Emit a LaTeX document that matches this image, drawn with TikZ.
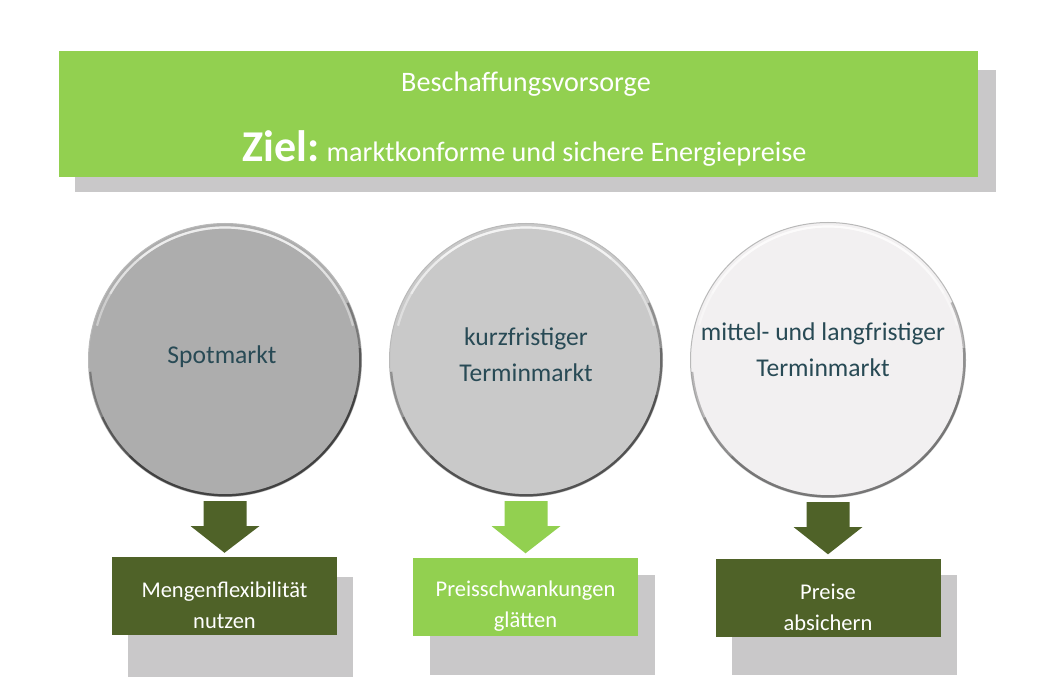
\documentclass[tikz,border=0pt]{standalone}
\usepackage{fontspec}
\setmainfont{Carlito}
\usetikzlibrary{calc}
\definecolor{bannergreen}{HTML}{92D050}
\definecolor{darkgreen}{HTML}{4F6228}
\definecolor{shadowgray}{HTML}{C9C8C9}
\definecolor{circA}{HTML}{ADADAD}
\definecolor{circB}{HTML}{C9C9C9}
\definecolor{circC}{HTML}{F2F0F1}
\definecolor{circtext}{HTML}{284A55}
\tikzset{
  bigcircle/.style={circle, minimum size=273pt, inner sep=0pt, draw=gray!55, line width=1pt},
  circlabel/.style={text=circtext, font=\fontsize{25.6}{36}\selectfont, align=center, inner sep=0pt},
  resultbox/.style={rectangle, minimum width=225pt, minimum height=78pt, inner sep=0pt},
  boxlabel/.style={text=white, font=\fontsize{22.5}{31}\selectfont, align=center, inner sep=0pt},
  shadowrect/.style={fill=shadowgray},
  bannertext/.style={text=white, inner sep=0pt, anchor=base},
}
% bevel: dark rim lower right, white highlight near the top (layered for a soft fade)
\newcommand{\bevel}[3]{%
  \foreach \a/\b in {15/135, -5/155, -25/175}{
    \draw[#2, line width=2.2pt, opacity=0.35] (#1) ++(\a:#3-1.2) arc (\a:\b:#3-1.2);
  }
  \foreach \a/\b in {230/310, 210/330, 195/345}{
    \draw[white, line width=2.2pt, opacity=0.4] (#1) ++(\a:#3-4) arc (\a:\b:#3-4);
  }
}
\newcommand{\blockarrow}[3]{%
  \fill[#3] ($(#1)+(-21.5,4)$) -- ($(#1)+(21.5,4)$) -- ($(#1)+(21.5,29)$) -- ($(#1)+(34.5,29)$)
    -- ($(#2)+(0,-4)$) -- ($(#1)+(-34.5,29)$) -- ($(#1)+(-21.5,29)$) -- cycle;
}
\begin{document}
\begin{tikzpicture}[x=1pt, y=-1pt]
\useasboundingbox (0,0) rectangle (1058,695);
\fill[white] (0,0) rectangle (1058,695);

% banner
\fill[shadowrect] (75,70) rectangle (996,192);
\node[rectangle, fill=bannergreen, minimum width=919pt, minimum height=126pt, inner sep=0pt] (banner) at (518.5,114) {};
\node[bannertext, font=\fontsize{28.2}{30}\selectfont] (title) at (526,92) {Beschaffungsvorsorge};
\node[bannertext] (goal) at (524.5,162) {{\fontsize{44}{48}\selectfont\bfseries Ziel:}\hspace{7pt}{\fontsize{28.2}{30}\selectfont marktkonforme und sichere Energiepreise}};

% circles
\node[bigcircle, fill=circA] (c1) at (225,360) {};
\bevel{c1}{gray!20!black}{136.5}
\node[bigcircle, fill=circB] (c2) at (526,360) {};
\bevel{c2}{gray!30!black}{136.5}
\node[bigcircle, fill=circC, minimum size=275pt] (c3) at (828,360) {};
\bevel{c3}{gray!60!black}{137.5}

\node[circlabel] (t1) at (222,357) {Spotmarkt};
\node[circlabel] (t2) at (526,355) {kurzfristiger\\Terminmarkt};
\node[circlabel] (t3) at (823,350) {mittel- und langfristiger\\Terminmarkt};

% result boxes with shadows
\fill[shadowrect] (128,577) rectangle (353,677);
\fill[shadowrect] (430,575) rectangle (655,675);
\fill[shadowrect] (732,575) rectangle (957,675);
\node[resultbox, fill=darkgreen] (b1) at (224.5,596) {};
\node[resultbox, fill=bannergreen] (b2) at (525.5,596.5) {};
\node[resultbox, fill=darkgreen] (b3) at (828,597.5) {};
\node[boxlabel] (l1) at (224.5,605) {Mengenflexibilität\\nutzen};
\node[boxlabel] (l2) at (525.5,606) {Preisschwankungen\\glätten};
\node[boxlabel] (l3) at (828,607.5) {Preise\\absichern};

% block arrows
\blockarrow{c1.south}{b1.north}{darkgreen}
\blockarrow{c2.south}{b2.north}{bannergreen}
\blockarrow{c3.south}{b3.north}{darkgreen}
\end{tikzpicture}
\end{document}
